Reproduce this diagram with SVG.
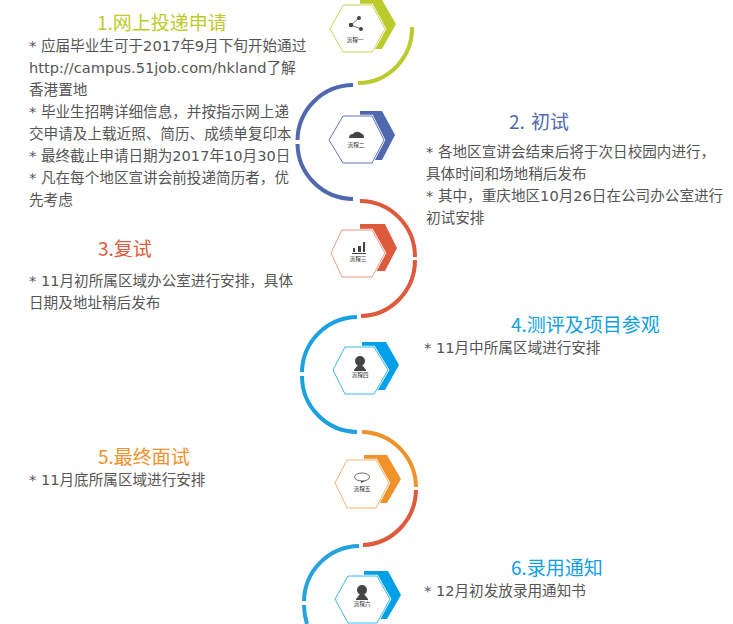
<svg xmlns="http://www.w3.org/2000/svg" width="733" height="624" viewBox="0 0 733 624">
<style>
text{font-family:"Noto Sans CJK SC","Liberation Sans",sans-serif}
.t{font-size:14.6px;fill:#555;font-family:"DejaVu Sans","Noto Sans CJK SC",sans-serif}
.h{font-size:19px}
.s{font-size:5.700px;fill:#333;text-anchor:middle}
.a{fill:none;stroke-width:4}
.w{fill:#fff;stroke:#fff;stroke-width:2.400}
.f{fill:#fff;stroke-width:1}
.i{fill:#444}
</style>
<rect width="733" height="624" fill="#fff"/>
<g id="connectors">
<path class="a" stroke="#bccb2c" d="M412 27A54 55 0 0 1 358 83"/>
<path class="a" stroke="#4f68ae" d="M353 85A56 56 0 0 0 297.500 140M297.500 144A56 56 0 0 0 353 199"/>
<path class="a" stroke="#dd5a3c" d="M360 201A55 56 0 0 1 415 257M415 260A55 56 0 0 1 361 316"/>
<path class="a" stroke="#1ba1e2" d="M357 317A56 56 0 0 0 302 372M302 376A56 56 0 0 0 357 432"/>
<path class="a" stroke="#f0922a" d="M362 432A55 56 0 0 1 416 487"/>
<path class="a" stroke="#dd5a3c" d="M416 490A55 56 0 0 1 363 545"/>
<path class="a" stroke="#25a3df" d="M359 546A56 56 0 0 0 304 601M304 605Q304 615 307 624"/>
</g>
<g id="node1">
<polygon fill="#bccb2c" points="352,0 382,0 396,24 382,49 360,49 360,0"/>
<polygon class="w" points="330,29 343,5 372,5 385,29 372,52 343,52"/>
<polygon class="f" stroke="#c9d45c" points="330,29 343,5 372,5 385,29 372,52 343,52"/>
<path fill="none" stroke="#444" stroke-width=".8" d="M359 18L351 25L361 29"/><circle class="i" cx="359" cy="18" r="2"/><circle class="i" cx="351" cy="25" r="2.200"/><circle class="i" cx="361" cy="29" r="2"/>
<text class="s" x="355" y="42">流程一</text>
</g>
<g id="node2">
<polygon fill="#4f68ae" points="352,111 382,111 395,135 382,160 360,160 360,111"/>
<polygon class="w" points="329,140 343,116 372,116 384,140 372,163 343,163"/>
<polygon class="f" stroke="#6577b8" points="329,140 343,116 372,116 384,140 372,163 343,163"/>
<path class="i" d="M349 138Q349 134 353 134Q355 131 359 132Q361 133 362 134Q364 134 364 138Z"/>
<text class="s" x="356" y="147">流程二</text>
</g>
<g id="node3">
<polygon fill="#dd5a3c" points="353,224 385,224 397,248 385,271 360,271 360,224"/>
<polygon class="w" points="331,253 342,230 372,230 385,253 372,277 342,277"/>
<polygon class="f" stroke="#eb9a85" points="331,253 342,230 372,230 385,253 372,277 342,277"/>
<path class="i" d="M353 248h2v4h-2zM358 246h3v6h-3zM363 242h2v10h-2zM352 253h14v1h-14z"/>
<text class="s" x="358" y="261">流程三</text>
</g>
<g id="node4">
<polygon fill="#00a0e9" points="355,342 386,342 399,365 385,390 362,390 362,342"/>
<polygon class="w" points="333,370 345,347 374,347 388,370 374,394 345,394"/>
<polygon class="f" stroke="#3fb8ef" points="333,370 345,347 374,347 388,370 374,394 345,394"/>
<circle class="i" cx="360" cy="361" r="5"/><path class="i" d="M354 370L358 365H362L366 370V371H354Z"/>
<text class="s" x="360" y="377">流程四</text>
</g>
<g id="node5">
<polygon fill="#f0922a" points="357,455 387,455 401,479 387,503 364,503 364,455"/>
<polygon class="w" points="335,483 347,460 376,460 389,483 376,508 347,508"/>
<polygon class="f" stroke="#f5b36a" points="335,483 347,460 376,460 389,483 376,508 347,508"/>
<ellipse cx="362" cy="477" rx="7.500" ry="4" fill="#fff" stroke="#444" stroke-width=".8"/><path class="i" d="M361 481L365 481L361 483Z"/>
<text class="s" x="362" y="491">流程五</text>
</g>
<g id="node6">
<polygon fill="#00a0e9" points="357,571 388,571 401,595 387,619 364,619 364,571"/>
<polygon class="w" points="335,599 348,576 377,576 390,599 377,623 348,623"/>
<polygon class="f" stroke="#3fb8ef" points="335,599 348,576 377,576 390,599 377,623 348,623"/>
<circle class="i" cx="362" cy="590" r="5"/><path class="i" d="M356 599L360 594H364L368 599V600H356Z"/>
<text class="s" x="362" y="606">流程六</text>
</g>
<g id="labels">
<text class="h" x="97" y="30" fill="#bccb2c">1.网上投递申请</text>
<text class="t" x="29" y="51">* 应届毕业生可于2017年9月下旬开始通过</text>
<text class="t" x="29" y="73">http://campus.51job.com/hkland了解</text>
<text class="t" x="29" y="95">香港置地</text>
<text class="t" x="29" y="117">* 毕业生招聘详细信息，并按指示网上递</text>
<text class="t" x="29" y="139">交申请及上载近照、简历、成绩单复印本</text>
<text class="t" x="29" y="161">* 最终截止申请日期为2017年10月30日</text>
<text class="t" x="29" y="183">* 凡在每个地区宣讲会前投递简历者，优</text>
<text class="t" x="29" y="205">先考虑</text>
<text class="h" x="98" y="256" fill="#dd5a3c">3.复试</text>
<text class="t" x="29" y="286">* 11月初所属区域办公室进行安排，具体</text>
<text class="t" x="29" y="308">日期及地址稍后发布</text>
<text class="h" x="98" y="464" fill="#f0922a">5.最终面试</text>
<text class="t" x="29" y="485">* 11月底所属区域进行安排</text>
<text class="h" x="509" y="129" fill="#4f68ae" word-spacing="2">2. 初试</text>
<text class="t" x="426" y="157">* 各地区宣讲会结束后将于次日校园内进行，</text>
<text class="t" x="426" y="179">具体时间和场地稍后发布</text>
<text class="t" x="426" y="201">* 其中，重庆地区10月26日在公司办公室进行</text>
<text class="t" x="426" y="223">初试安排</text>
<text class="h" x="511" y="332" fill="#0f9fe3">4.测评及项目参观</text>
<text class="t" x="424" y="353">* 11月中所属区域进行安排</text>
<text class="h" x="511" y="575" fill="#0f9fe3">6.录用通知</text>
<text class="t" x="424" y="596">* 12月初发放录用通知书</text>
</g>
</svg>
